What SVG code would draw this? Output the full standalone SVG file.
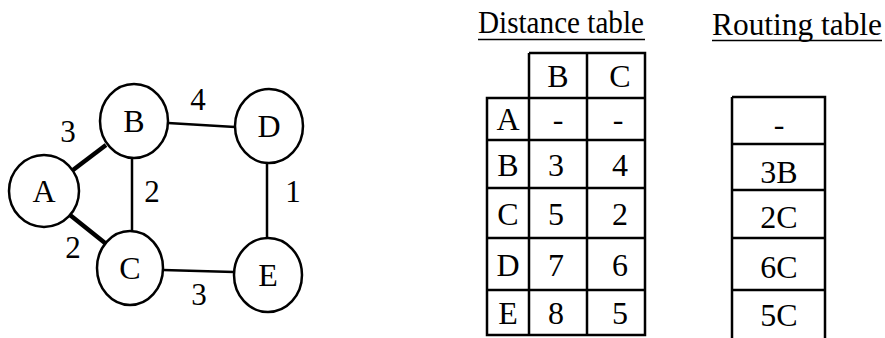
<svg xmlns="http://www.w3.org/2000/svg" width="885" height="338" viewBox="0 0 885 338">
<style>
text{font-family:"Liberation Serif","DejaVu Serif",serif;fill:#000;text-anchor:middle}
.node ellipse{fill:#fff;stroke:#000;stroke-width:2.5}
.nl{font-size:32px}
.w{font-size:31px}
.edge{stroke:#000;stroke-width:2.5;fill:none}
.thick{stroke-width:4.5}
.grid{fill:none;stroke:#000;stroke-width:2.5}
.t{font-size:32px}
.title{font-size:31px}
</style>
<rect width="885" height="338" fill="#fff"/>
<g id="connectors">
<line class="edge thick" x1="73" y1="170" x2="106" y2="145"/>
<line class="edge thick" x1="70" y1="215" x2="105" y2="243"/>
<line class="edge" x1="132" y1="158" x2="132" y2="232"/>
<line class="edge" x1="168" y1="123" x2="235" y2="127"/>
<line class="edge" x1="267" y1="163" x2="267" y2="237"/>
<line class="edge" x1="163" y1="270" x2="234" y2="272"/>
<text class="w" x="68" y="142">3</text>
<text class="w" x="198" y="110">4</text>
<text class="w" x="152" y="202">2</text>
<text class="w" x="293" y="202">1</text>
<text class="w" x="73" y="258">2</text>
<text class="w" x="199" y="305">3</text>
</g>
<g id="node-A" class="node"><ellipse cx="44" cy="191" rx="35" ry="36"/><text class="nl" x="44" y="202">A</text></g>
<g id="node-B" class="node"><ellipse cx="134" cy="121" rx="34" ry="37"/><text class="nl" x="134" y="132">B</text></g>
<g id="node-D" class="node"><ellipse cx="269" cy="126" rx="34" ry="37"/><text class="nl" x="269" y="137">D</text></g>
<g id="node-C" class="node"><ellipse cx="130" cy="268" rx="33" ry="37"/><text class="nl" x="130" y="279">C</text></g>
<g id="node-E" class="node"><ellipse cx="268" cy="275" rx="34" ry="37"/><text class="nl" x="268" y="286">E</text></g>
<g id="distance-table">
<text class="title" x="561" y="33" textLength="166" lengthAdjust="spacingAndGlyphs">Distance table</text>
<line x1="478" y1="39.5" x2="645" y2="39.5" stroke="#000" stroke-width="1.5"/>
<path class="grid" d="M529 53H645V335H487V98H645M529 53V335M587 53V335M487 140H645M487 188H645M487 238H645M487 290H645"/>
<text class="t" x="558" y="87">B</text>
<text class="t" x="620" y="87">C</text>
<text class="t" x="508" y="130">A</text>
<text class="t" x="558" y="130">-</text>
<text class="t" x="618" y="130">-</text>
<text class="t" x="508" y="176">B</text>
<text class="t" x="556" y="176">3</text>
<text class="t" x="620" y="176">4</text>
<text class="t" x="508" y="225">C</text>
<text class="t" x="556" y="225">5</text>
<text class="t" x="620" y="225">2</text>
<text class="t" x="508" y="276">D</text>
<text class="t" x="556" y="276">7</text>
<text class="t" x="620" y="276">6</text>
<text class="t" x="508" y="324">E</text>
<text class="t" x="556" y="324">8</text>
<text class="t" x="620" y="324">5</text>
</g>
<g id="routing-table">
<text class="title" x="797" y="35" textLength="170" lengthAdjust="spacingAndGlyphs">Routing table</text>
<line x1="712" y1="40.5" x2="882" y2="40.5" stroke="#000" stroke-width="1.5"/>
<path class="grid" d="M732 97H825V338M732 97V338M732 144H825M732 190H825M732 238H825M732 290H825"/>
<text class="t" x="779" y="135">-</text>
<text class="t" x="779" y="183">3B</text>
<text class="t" x="779" y="228">2C</text>
<text class="t" x="779" y="278">6C</text>
<text class="t" x="779" y="326">5C</text>
</g>
</svg>
